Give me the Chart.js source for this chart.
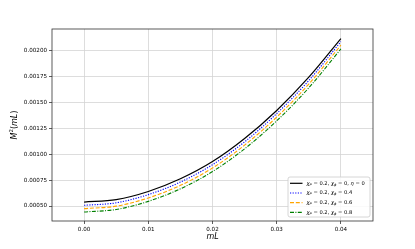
<!DOCTYPE html>
<html>
<head>
<meta charset="utf-8">
<script src="https://cdn.jsdelivr.net/npm/chart.js@4/dist/chart.umd.min.js"></script>
<style>
  html, body { margin: 0; padding: 0; background: #fff; }
  #wrap { width: 415px; height: 249px; }
</style>
</head>
<body>
<div id="wrap"><canvas id="myChart" width="415" height="249"></canvas></div>
<script>
// values
var mL = [0, 0.005, 0.01, 0.015, 0.02, 0.025, 0.03, 0.035, 0.04];
var serie_eta0 = [0.000538, 0.000562, 0.000640, 0.000762, 0.000928, 0.001150, 0.001420, 0.001740, 0.002112];
var serie_04 = [0.000507, 0.000531, 0.000610, 0.000731, 0.000898, 0.001118, 0.001390, 0.001708, 0.002082];
var serie_06 = [0.000475, 0.000499, 0.000578, 0.000699, 0.000866, 0.001086, 0.001356, 0.001674, 0.002048];
var serie_08 = [0.000443, 0.000467, 0.000545, 0.000666, 0.000832, 0.001051, 0.001320, 0.001638, 0.002012];
var xTicks = [0, 0.01, 0.02, 0.03, 0.04];
var yTicks = [0.0005, 0.00075, 0.001, 0.00125, 0.0015, 0.00175, 0.002];
var phiWerte = ["0", "0.4", "0.6", "0.8"];

var farben = ["#000000", "#0000ff", "#ffa500", "#008000"];
var striche = [[], [1.2, 1.4], [4, 1.8], [4, 1.4, 1, 1.4]];

function punkte(werte){
    var p = [];
    for (var i = 0; i < mL.length; i++){
        p.push({x: mL[i], y: werte[i]});
    }
    return p;
}

var reihen = [serie_eta0, serie_04, serie_06, serie_08];
var datasets = [];
for (var i = 0; i < reihen.length; i++){
    datasets.push({
        data: punkte(reihen[i]),
        borderColor: farben[i],
        borderWidth: i == 0 ? 1.2 : 1.1,
        borderDash: striche[i],
        pointRadius: 0,
        fill: false,
        cubicInterpolationMode: "monotone"
    });
}

var FONT = "'DejaVu Sans', sans-serif";

// text mit tiefgestelltem index zeichnen
function teile(ctx, parts, x, y){
    for (var k = 0; k < parts.length; k++){
        var t = parts[k];
        ctx.font = t.sub ? "italic 3.6px " + FONT : (t.it ? "italic 5.2px " : "5.2px ") + FONT;
        ctx.fillText(t.s, x, y + (t.sub ? 1.5 : 0));
        x += ctx.measureText(t.s).width;
    }
}

var extras = {
    id: "extras",
    afterDraw: function(chart){
        var ctx = chart.ctx;
        var a = chart.chartArea;
        ctx.save();
        // rahmen
        ctx.strokeStyle = "#333";
        ctx.lineWidth = 0.8;
        ctx.strokeRect(a.left, a.top, a.right - a.left, a.bottom - a.top);

        // achsentitel
        ctx.fillStyle = "#000";
        ctx.textBaseline = "middle";
        ctx.textAlign = "left";
        ctx.font = "italic 8px " + FONT;
        var w = ctx.measureText("mL").width;
        ctx.fillText("mL", (a.left + a.right) / 2 - w / 2, 237);

        ctx.save();
        ctx.translate(15, (a.top + a.bottom) / 2);
        ctx.rotate(-Math.PI / 2);
        ctx.font = "italic 8px " + FONT;
        var w1 = ctx.measureText("M").width;
        ctx.font = "5.5px " + FONT;
        var w2 = ctx.measureText("2").width;
        ctx.font = "8px " + FONT;
        var w3 = ctx.measureText("(").width + ctx.measureText(")").width;
        ctx.font = "italic 8px " + FONT;
        var w4 = ctx.measureText("mL").width;
        var x = -(w1 + w2 + w3 + w4) / 2;
        ctx.font = "italic 8px " + FONT; ctx.fillText("M", x, 0); x += w1;
        ctx.font = "5.5px " + FONT; ctx.fillText("2", x, -3); x += w2;
        ctx.font = "8px " + FONT; ctx.fillText("(", x, 0); x += ctx.measureText("(").width;
        ctx.font = "italic 8px " + FONT; ctx.fillText("mL", x, 0); x += w4;
        ctx.font = "8px " + FONT; ctx.fillText(")", x, 0);
        ctx.restore();

        // legende
        var bx = 288, by = 177, bw = 82, bh = 40, r = 2;
        ctx.fillStyle = "rgba(255,255,255,0.85)";
        ctx.strokeStyle = "#cccccc";
        ctx.lineWidth = 0.8;
        ctx.beginPath();
        ctx.moveTo(bx + r, by);
        ctx.arcTo(bx + bw, by, bx + bw, by + bh, r);
        ctx.arcTo(bx + bw, by + bh, bx, by + bh, r);
        ctx.arcTo(bx, by + bh, bx, by, r);
        ctx.arcTo(bx, by, bx + bw, by, r);
        ctx.closePath();
        ctx.fill();
        ctx.stroke();

        for (var i = 0; i < datasets.length; i++){
            var yy = 183.3 + i * 9.7;
            ctx.strokeStyle = farben[i];
            ctx.lineWidth = 1.2;
            ctx.setLineDash(striche[i]);
            ctx.beginPath();
            ctx.moveTo(290, yy);
            ctx.lineTo(302.5, yy);
            ctx.stroke();
            ctx.setLineDash([]);
            ctx.fillStyle = "#000";
            var parts = [
                {s: "χ", it: true}, {s: "P", sub: true}, {s: " = 0.2, "},
                {s: "χ", it: true}, {s: "ϕ", sub: true}, {s: " = " + phiWerte[i]}
            ];
            if (i == 0){
                parts.push({s: ", "}, {s: "η", it: true}, {s: " = 0"});
            }
            teile(ctx, parts, 306.5, yy);
        }
        ctx.restore();
    }
};

new Chart("myChart", {
    type: "line",
    data: { datasets: datasets },
    plugins: [extras],
    options: {
        responsive: false,
        animation: false,
        layout: { padding: { left: 0, right: 42, top: 29, bottom: 0 } },
        plugins: { legend: { display: false }, tooltip: { enabled: false } },
        scales: {
            x: {
                type: "linear",
                min: -0.005,
                max: 0.045,
                afterBuildTicks: function(s){ s.ticks = xTicks.map(function(v){ return {value: v}; }); },
                afterFit: function(s){ s.height = 28; },
                grid: { color: "#d4d4d4", lineWidth: 0.8, tickLength: 3, tickColor: "#333", drawOnChartArea: true },
                border: { display: false },
                ticks: {
                    color: "#000",
                    font: { family: FONT, size: 5.6 },
                    padding: 2,
                    maxRotation: 0,
                    callback: function(v){ return v.toFixed(2); }
                }
            },
            y: {
                min: 0.000356,
                max: 0.002204,
                afterBuildTicks: function(s){ s.ticks = yTicks.map(function(v){ return {value: v}; }); },
                afterFit: function(s){ s.width = 52; },
                grid: { color: "#d4d4d4", lineWidth: 0.8, tickLength: 3, tickColor: "#333" },
                border: { display: false },
                ticks: {
                    color: "#000",
                    font: { family: FONT, size: 5.6 },
                    padding: 2,
                    callback: function(v){ return v.toFixed(5); }
                }
            }
        }
    }
});
</script>
</body>
</html>
